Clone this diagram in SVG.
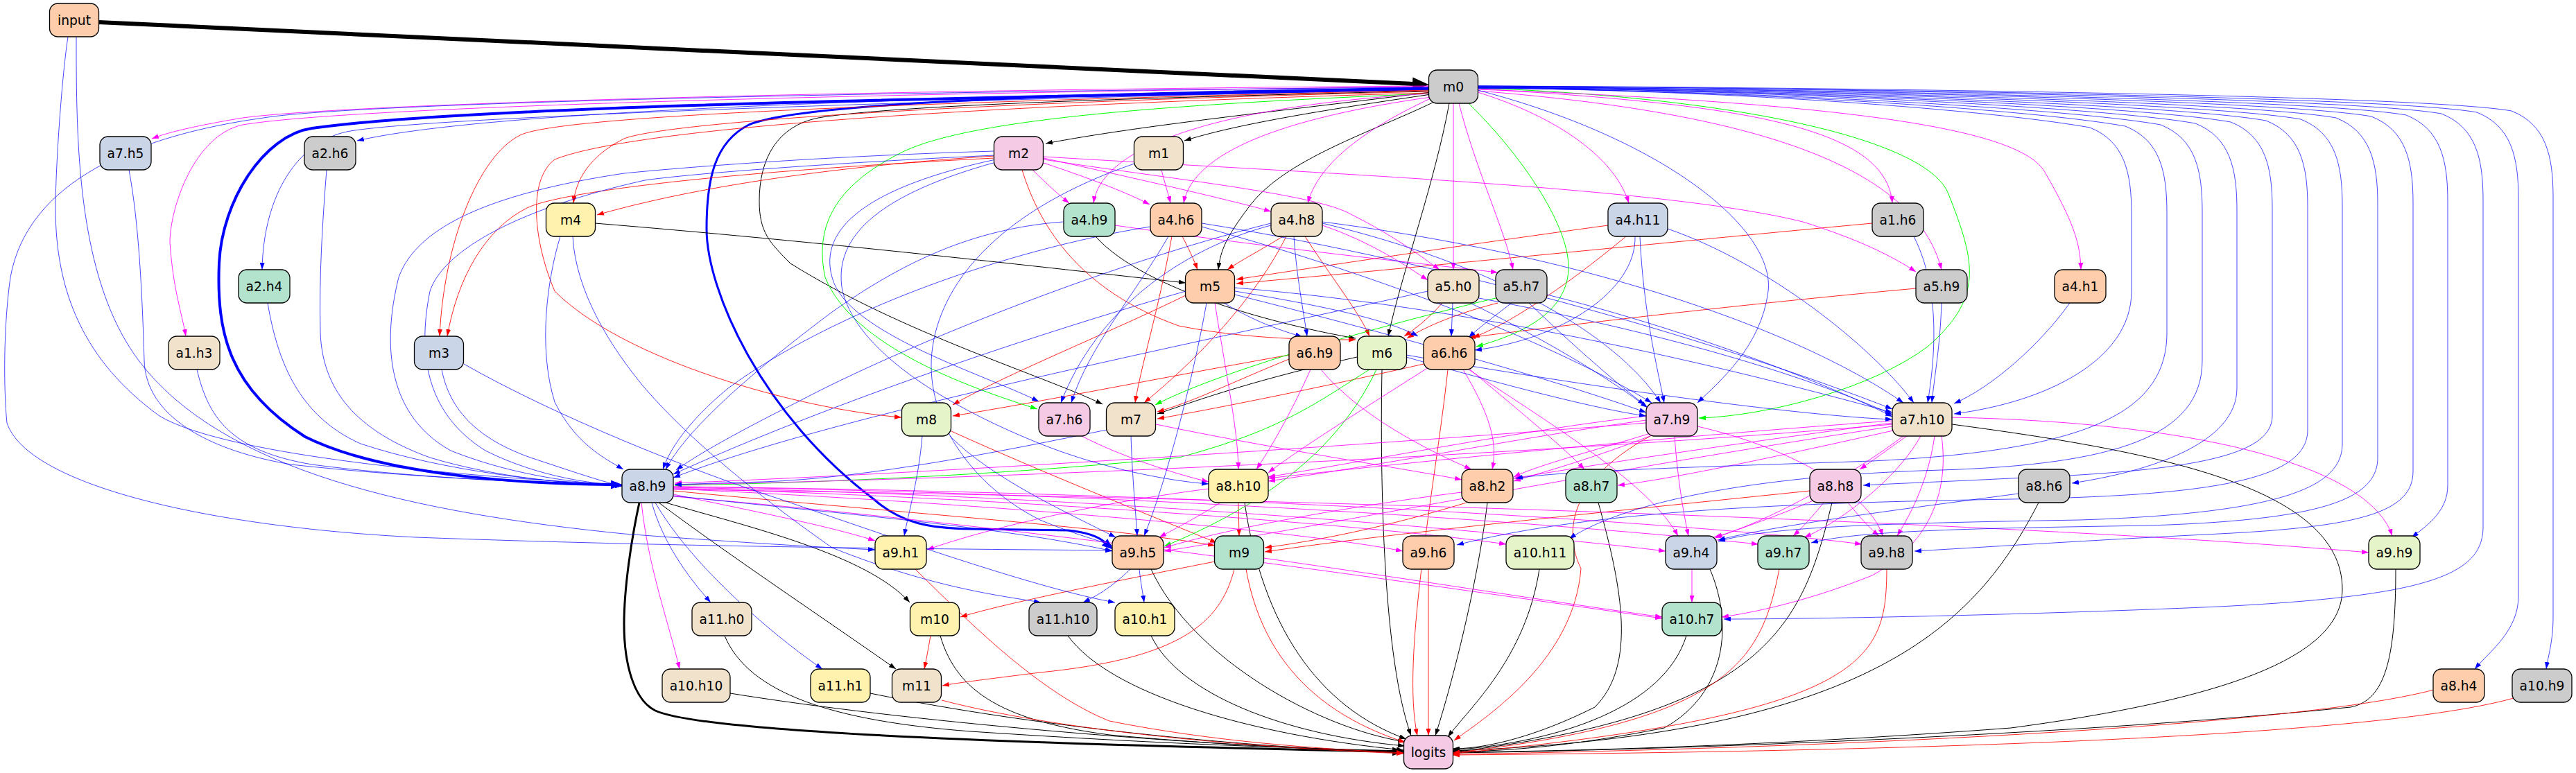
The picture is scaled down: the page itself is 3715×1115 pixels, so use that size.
<svg xmlns="http://www.w3.org/2000/svg" width="3715" height="1115" viewBox="0 0 3715 1115">
<defs>
<style>
.e{fill:none;stroke-width:1}
.k{stroke:#000;marker-end:url(#ak)}
.b{stroke:#0000ff;stroke-opacity:.72;marker-end:url(#ab)}
.r{stroke:#ff0000;stroke-opacity:.85;marker-end:url(#ar)}
.m{stroke:#ff00ff;stroke-opacity:.85;marker-end:url(#am)}
.g{stroke:#00ff00;marker-end:url(#ag)}
.n rect{stroke:#000;stroke-width:1.3}
.n text{font-family:"DejaVu Sans","Liberation Sans",sans-serif;font-size:18.67px;text-anchor:middle;fill:#000}
</style>
<marker id="ak" viewBox="0 0 10 7" refX="10" refY="3.5" markerWidth="10" markerHeight="7" markerUnits="userSpaceOnUse" orient="auto"><path d="M0,0L10,3.5L0,7z" fill="#000"/></marker>
<marker id="ab" viewBox="0 0 10 7" refX="10" refY="3.5" markerWidth="10" markerHeight="7" markerUnits="userSpaceOnUse" orient="auto"><path d="M0,0L10,3.5L0,7z" fill="#0000ff"/></marker>
<marker id="ar" viewBox="0 0 10 7" refX="10" refY="3.5" markerWidth="10" markerHeight="7" markerUnits="userSpaceOnUse" orient="auto"><path d="M0,0L10,3.5L0,7z" fill="#ff0000"/></marker>
<marker id="am" viewBox="0 0 10 7" refX="10" refY="3.5" markerWidth="10" markerHeight="7" markerUnits="userSpaceOnUse" orient="auto"><path d="M0,0L10,3.5L0,7z" fill="#ff00ff"/></marker>
<marker id="ag" viewBox="0 0 10 7" refX="10" refY="3.5" markerWidth="10" markerHeight="7" markerUnits="userSpaceOnUse" orient="auto"><path d="M0,0L10,3.5L0,7z" fill="#00ff00"/></marker>
<marker id="akT" viewBox="0 0 10 8" refX="0" refY="4" markerWidth="24" markerHeight="20" markerUnits="userSpaceOnUse" orient="auto"><path d="M0,0L10,4L0,8z" fill="#000"/></marker>
<marker id="akM" viewBox="0 0 10 8" refX="0" refY="4" markerWidth="16" markerHeight="13" markerUnits="userSpaceOnUse" orient="auto"><path d="M0,0L10,4L0,8z" fill="#000"/></marker>
<marker id="abT" viewBox="0 0 10 8" refX="0" refY="4" markerWidth="16" markerHeight="13" markerUnits="userSpaceOnUse" orient="auto"><path d="M0,0L10,4L0,8z" fill="#0000ff"/></marker>
</defs>
<rect width="3715" height="1115" fill="#fff"/>
<g id="connectors">
<!-- thick -->
<path class="e" style="stroke:#000;stroke-width:6;marker-end:url(#akT)" d="M142,32 L2037,121"/>
<path class="e" style="stroke:#0000ff;stroke-width:4;marker-end:url(#abT)" d="M2061,128 C1500,140 700,150 450,185 C380,195 320,290 316,380 C312,480 330,560 440,630 C560,690 780,698 881,699"/>
<path class="e" style="stroke:#0000ff;stroke-width:3;marker-end:url(#abT)" d="M2061,127 C1500,135 1150,150 1080,180 C1030,205 1019,260 1019,330 C1019,420 1100,600 1260,720 C1300,755 1340,762 1400,763 L1540,765 C1570,768 1585,775 1593,782"/>
<path class="e" style="stroke:#000;stroke-width:3;marker-end:url(#akM)" d="M922,725 C910,780 900,850 900,900 C900,960 915,1010 945,1025 C1000,1050 1300,1070 2008,1084"/>
<!-- black -->
<path class="e k" d="M2063,133 C1850,160 1650,180 1508,207"/>
<path class="e k" d="M2064,136 C1900,160 1780,180 1708,203"/>
<path class="e k" d="M2068,147 C1980,190 1850,230 1800,300 C1770,340 1760,360 1757,389"/>
<path class="e k" d="M2090,149 C2070,260 2020,400 2002,485"/>
<path class="e k" d="M2061,131 C1700,140 1300,150 1180,170 C1120,182 1095,230 1095,290 C1095,335 1110,350 1140,380 C1300,480 1500,540 1590,583"/>
<path class="e k" d="M858,322 C1200,350 1500,385 1710,408"/>
<path class="e k" d="M1580,341 C1650,420 1850,470 1955,488"/>
<path class="e k" d="M1957,515 C1800,550 1720,580 1669,597"/>
<path class="e k" d="M960,725 C1080,760 1250,800 1312,869"/>
<path class="e k" d="M950,725 C1050,800 1200,900 1292,965"/>
<path class="e k" d="M1045,917 C1080,1000 1200,1040 1400,1055 C1700,1075 1900,1080 2024,1083"/>
<path class="e k" d="M1053,1000 C1300,1040 1700,1075 2024,1085"/>
<path class="e k" d="M1255,1000 C1500,1050 1800,1078 2024,1086"/>
<path class="e k" d="M1356,917 C1380,1000 1450,1040 1600,1060 C1800,1078 1950,1082 2024,1084"/>
<path class="e k" d="M1540,917 C1600,1000 1800,1060 2024,1082"/>
<path class="e k" d="M1660,917 C1700,1000 1850,1060 2026,1076"/>
<path class="e k" d="M1660,821 C1720,950 1900,1050 2026,1070"/>
<path class="e k" d="M1795,725 C1820,900 1900,1020 2028,1066"/>
<path class="e k" d="M1993,533 C1990,700 1995,950 2035,1061"/>
<path class="e k" d="M2145,725 C2130,850 2090,1000 2070,1061"/>
<path class="e k" d="M2220,821 C2200,950 2120,1020 2088,1063"/>
<path class="e k" d="M2305,725 C2340,850 2360,960 2300,1020 C2200,1070 2130,1080 2095,1080"/>
<path class="e k" d="M2432,917 C2400,1020 2250,1070 2095,1082"/>
<path class="e k" d="M2466,821 C2500,900 2490,1000 2400,1050 C2250,1080 2150,1084 2095,1084"/>
<path class="e k" d="M2642,725 C2600,900 2550,1030 2095,1085"/>
<path class="e k" d="M2940,725 C2850,900 2700,1060 2095,1083"/>
<path class="e k" d="M2815,612 C3100,650 3378,700 3378,850 C3378,950 3200,1010 2900,1050 C2500,1080 2200,1084 2095,1085"/>
<path class="e k" d="M3455,821 C3455,950 3440,1010 3390,1020 C3000,1060 2400,1082 2095,1086"/>
<!-- red -->
<path class="e r" d="M2061,130 C1200,150 800,170 750,195 C690,225 640,350 634,485"/>
<path class="e r" d="M1434,228 C1000,250 800,280 760,300 C700,330 660,400 645,485"/>
<path class="e r" d="M2061,132 C1300,150 950,180 900,200 C850,225 830,260 827,293"/>
<path class="e r" d="M1434,225 C1200,240 1000,270 861,310"/>
<path class="e r" d="M2061,134 C1300,155 900,190 800,230 C760,260 770,350 800,420 C900,520 1150,590 1300,602"/>
<path class="e r" d="M1712,425 C1600,480 1450,540 1374,584"/>
<path class="e r" d="M1859,512 C1700,540 1500,580 1374,600"/>
<path class="e r" d="M1705,341 C1715,360 1722,375 1727,389"/>
<path class="e r" d="M1850,341 C1820,360 1790,375 1770,389"/>
<path class="e r" d="M2319,325 C2100,355 1900,385 1783,403"/>
<path class="e r" d="M2700,322 C2400,350 2000,390 1783,409"/>
<path class="e r" d="M2763,416 C2500,440 2250,470 2118,487"/>
<path class="e r" d="M2345,341 C2250,420 2170,470 2124,487"/>
<path class="e r" d="M2080,437 C2060,460 2040,475 2025,485"/>
<path class="e r" d="M2160,437 C2090,455 2050,475 2029,488"/>
<path class="e r" d="M1882,341 C1920,400 1960,450 1975,485"/>
<path class="e r" d="M1474,245 C1500,330 1560,420 1700,470 C1800,490 1900,490 1955,490"/>
<path class="e r" d="M1690,341 C1670,450 1645,530 1637,581"/>
<path class="e r" d="M1855,341 C1800,450 1700,540 1650,581"/>
<path class="e r" d="M1859,518 C1780,550 1720,580 1669,594"/>
<path class="e r" d="M2053,525 C1900,560 1750,590 1669,604"/>
<path class="e r" d="M971,708 C1300,740 1600,760 1752,787"/>
<path class="e r" d="M1786,725 L1787,773"/>
<path class="e r" d="M1372,622 C1500,680 1650,740 1755,783"/>
<path class="e r" d="M2115,725 C2000,760 1900,780 1824,790"/>
<path class="e r" d="M2610,708 C2300,740 2000,770 1824,796"/>
<path class="e r" d="M1752,810 C1600,840 1450,870 1385,890"/>
<path class="e r" d="M1780,821 C1760,900 1700,950 1500,970 C1420,980 1380,985 1359,989"/>
<path class="e r" d="M1342,917 C1338,940 1335,955 1333,965"/>
<path class="e r" d="M1358,1010 C1550,1060 1850,1080 2024,1087"/>
<path class="e r" d="M1320,821 C1400,900 1500,1000 1600,1040 C1750,1070 1900,1080 2024,1086"/>
<path class="e r" d="M1797,821 C1820,950 1900,1030 2027,1071"/>
<path class="e r" d="M2088,533 C2070,700 2020,950 2044,1061"/>
<path class="e r" d="M2060,821 L2060,1061"/>
<path class="e r" d="M2380,629 C2250,700 2260,780 2280,820 C2270,950 2150,1030 2097,1068"/>
<path class="e r" d="M2566,821 C2540,950 2500,1040 2095,1086"/>
<path class="e r" d="M2721,821 C2720,950 2700,1030 2095,1087"/>
<path class="e r" d="M3510,995 C3300,1050 2600,1080 2095,1088"/>
<path class="e r" d="M3625,1007 C3400,1070 2600,1085 2095,1089"/>
<!-- green -->
<path class="e g" d="M2118,149 C2200,230 2265,330 2262,390 C2258,450 2200,480 2129,500"/>
<path class="e g" d="M2131,127 C2500,140 2780,200 2810,280 C2850,380 2860,430 2780,500 C2700,560 2550,600 2450,603"/>
<path class="e g" d="M2061,135 C1700,150 1400,170 1300,220 C1200,270 1175,330 1190,400 C1230,500 1400,560 1496,590"/>
<path class="e g" d="M2157,430 C1950,480 1750,540 1666,584"/>
<path class="e g" d="M1975,533 C1900,580 1850,620 1700,660 C1400,690 1100,698 973,700"/>
<path class="e g" d="M1985,533 C1930,650 1820,730 1679,788"/>
<!-- magenta -->
<path class="e m" d="M2061,124 C1200,130 500,150 350,170 C260,185 232,195 219,200"/>
<path class="e m" d="M2061,125 C1200,135 500,155 350,180 C280,195 245,300 245,350 C250,420 262,450 268,485"/>
<path class="e m" d="M2062,135 C1800,150 1590,200 1577,293"/>
<path class="e m" d="M2064,140 C1850,170 1720,220 1707,293"/>
<path class="e m" d="M2063,142 C1960,190 1900,240 1886,293"/>
<path class="e m" d="M2096,149 L2096,389"/>
<path class="e m" d="M2104,149 C2130,250 2170,330 2182,389"/>
<path class="e m" d="M2131,133 C2250,170 2330,230 2349,293"/>
<path class="e m" d="M2131,128 C2500,150 2720,180 2729,293"/>
<path class="e m" d="M2131,131 C2500,160 2760,230 2800,389"/>
<path class="e m" d="M2131,129 C2700,150 2920,190 2950,250 C2990,320 3000,350 3001,389"/>
<path class="e m" d="M1489,245 C1510,265 1525,280 1542,293"/>
<path class="e m" d="M1505,235 C1580,260 1630,280 1658,295"/>
<path class="e m" d="M1505,228 C1650,260 1780,290 1833,305"/>
<path class="e m" d="M1505,226 C1900,250 2400,270 2600,320 C2680,345 2730,370 2763,392"/>
<path class="e m" d="M1505,230 C1700,260 1900,280 1950,310 C2010,340 2050,370 2076,389"/>
<path class="e m" d="M1675,245 C1680,265 1685,280 1688,293"/>
<path class="e m" d="M1907,325 C1980,350 2030,385 2059,404"/>
<path class="e m" d="M1608,325 C1850,360 2050,380 2160,393"/>
<path class="e m" d="M1752,437 C1770,550 1785,620 1786,677"/>
<path class="e m" d="M1890,533 C1860,600 1830,650 1812,677"/>
<path class="e m" d="M1905,533 C1960,600 2060,650 2122,677"/>
<path class="e m" d="M2060,530 C1950,600 1870,650 1829,682"/>
<path class="e m" d="M2110,533 C2150,600 2160,640 2152,677"/>
<path class="e m" d="M2120,533 C2200,600 2260,650 2285,677"/>
<path class="e m" d="M2118,533 C2250,620 2380,700 2420,773"/>
<path class="e m" d="M1560,629 C1620,660 1700,685 1743,695"/>
<path class="e m" d="M1667,612 C1850,650 2050,680 2108,692"/>
<path class="e m" d="M2374,600 C2200,620 2000,660 1829,688"/>
<path class="e m" d="M2374,606 C2200,630 2000,670 1829,694"/>
<path class="e m" d="M2380,625 C2300,650 2220,670 2183,688"/>
<path class="e m" d="M2382,628 C2300,660 2230,680 2183,694"/>
<path class="e m" d="M2415,629 C2420,700 2430,750 2435,773"/>
<path class="e m" d="M2448,615 C2600,650 2700,720 2715,773"/>
<path class="e m" d="M2374,610 C2000,640 1400,680 973,697"/>
<path class="e m" d="M2729,612 C2300,650 1500,690 973,699"/>
<path class="e m" d="M2750,629 C2720,650 2700,665 2682,677"/>
<path class="e m" d="M2745,629 C2650,700 2530,760 2472,775"/>
<path class="e m" d="M2770,629 C2730,700 2640,760 2602,775"/>
<path class="e m" d="M2790,629 C2780,700 2750,750 2736,773"/>
<path class="e m" d="M2815,602 C3200,610 3420,680 3450,773"/>
<path class="e m" d="M2729,610 C2500,640 2300,670 2183,690"/>
<path class="e m" d="M2729,607 C2400,630 2000,670 1829,690"/>
<path class="e m" d="M2735,620 C2600,650 2420,690 2333,700"/>
<path class="e m" d="M2800,629 C2810,700 2790,780 2700,830 C2600,870 2520,885 2483,890"/>
<path class="e m" d="M2729,615 C2300,680 1900,760 1679,795"/>
<path class="e m" d="M2630,725 C2610,750 2595,765 2586,773"/>
<path class="e m" d="M2665,725 C2685,750 2700,765 2710,773"/>
<path class="e m" d="M2615,722 C2550,750 2500,765 2474,776"/>
<path class="e m" d="M1760,725 C1720,750 1690,765 1672,775"/>
<path class="e m" d="M2108,710 C1950,730 1780,760 1679,790"/>
<path class="e m" d="M1743,705 C1550,730 1400,770 1337,793"/>
<path class="e m" d="M1822,805 C2000,830 2250,870 2397,890"/>
<path class="e m" d="M2440,821 L2440,869"/>
<path class="e m" d="M971,713 C1100,740 1200,760 1262,780"/>
<path class="e m" d="M971,705 C1500,730 1900,770 2023,795"/>
<path class="e m" d="M971,704 C1500,720 2000,760 2172,785"/>
<path class="e m" d="M971,703 C1600,715 2200,770 2402,795"/>
<path class="e m" d="M971,702 C1700,712 2300,760 2536,785"/>
<path class="e m" d="M971,702 C1800,710 2500,760 2685,785"/>
<path class="e m" d="M971,706 C2000,720 3000,760 3416,797"/>
<path class="e m" d="M971,716 C1500,760 2100,850 2397,892"/>
<path class="e m" d="M925,725 C935,820 965,900 980,965"/>
<!-- blue -->
<path class="e b" d="M98,53 C88,120 80,250 80,300 C80,420 120,520 230,600 C330,660 700,690 897,699"/>
<path class="e b" d="M110,53 C110,200 110,400 200,520 C320,680 600,740 900,770 C1100,785 1200,790 1262,793"/>
<path class="e b" d="M2061,126 C1200,132 500,150 380,170 C200,195 40,260 15,400 C5,470 5,560 10,610 C40,700 300,760 600,775 C1000,790 1400,792 1604,794"/>
<path class="e b" d="M2061,127 C1300,140 700,160 515,203"/>
<path class="e b" d="M2061,129 C1300,145 600,170 500,190 C430,205 380,280 378,389"/>
<path class="e b" d="M186,245 C200,320 205,420 208,520 C210,600 300,650 420,670 C600,690 800,697 897,700"/>
<path class="e b" d="M284,533 C300,600 330,650 450,670 C600,690 800,698 897,700"/>
<path class="e b" d="M471,245 C465,320 460,400 462,480 C465,560 510,620 620,660 C720,690 820,697 897,701"/>
<path class="e b" d="M386,437 C400,520 430,600 520,640 C640,680 800,697 897,701"/>
<path class="e b" d="M637,533 C650,600 700,640 780,665 C840,685 870,695 897,701"/>
<path class="e b" d="M669,525 C800,600 1000,680 1125,720 C1300,780 1500,850 1608,869"/>
<path class="e b" d="M808,341 C790,400 775,500 800,580 C830,640 870,660 899,677"/>
<path class="e b" d="M826,341 C830,420 880,500 930,560 C1000,640 1100,720 1200,790 C1350,850 1450,860 1501,869"/>
<path class="e b" d="M1434,218 C1200,225 1000,240 900,250 C700,280 600,330 575,400 C550,500 560,600 650,650 C750,690 850,698 897,700"/>
<path class="e b" d="M1434,224 C1200,235 1000,250 930,260 C750,300 640,360 620,420 C600,520 620,600 700,650 C780,690 860,698 897,700"/>
<path class="e b" d="M1436,230 C1250,270 1180,330 1200,400 C1220,480 1420,540 1498,579"/>
<path class="e b" d="M1436,234 C1270,280 1200,340 1215,420 C1240,520 1400,600 1500,640 C1600,680 1700,695 1743,698"/>
<path class="e b" d="M1636,236 C1450,300 1360,400 1345,500 C1330,600 1400,700 1500,750 C1560,775 1590,780 1604,788"/>
<path class="e b" d="M1533,320 C1400,330 1300,380 1200,450 C1080,540 990,620 960,677"/>
<path class="e b" d="M1659,327 C1450,360 1200,450 1050,560 C990,610 965,650 956,677"/>
<path class="e b" d="M1833,322 C1600,380 1300,500 1150,580 C1050,630 1000,660 975,678"/>
<path class="e b" d="M1710,420 C1500,480 1200,580 971,684"/>
<path class="e b" d="M2059,420 C1700,500 1200,600 971,689"/>
<path class="e b" d="M1596,620 C1450,650 1250,690 1100,695 C1030,697 1000,698 973,699"/>
<path class="e b" d="M1330,629 C1325,690 1310,740 1304,773"/>
<path class="e b" d="M1370,629 C1430,690 1540,740 1609,775"/>
<path class="e b" d="M1631,629 C1633,690 1638,740 1640,773"/>
<path class="e b" d="M1740,437 C1720,550 1680,700 1650,773"/>
<path class="e b" d="M1685,341 C1640,420 1570,500 1545,581"/>
<path class="e b" d="M1833,325 C1700,360 1580,450 1530,581"/>
<path class="e b" d="M1733,322 C2100,380 2500,500 2729,590"/>
<path class="e b" d="M1733,327 C2000,400 2250,500 2382,581"/>
<path class="e b" d="M1907,322 C2150,380 2330,480 2395,581"/>
<path class="e b" d="M1907,320 C2300,370 2600,480 2745,581"/>
<path class="e b" d="M1866,341 C1870,400 1880,450 1885,485"/>
<path class="e b" d="M1765,437 C1820,470 1860,480 1878,486"/>
<path class="e b" d="M1781,420 C1900,440 2000,460 2045,485"/>
<path class="e b" d="M1781,415 C2200,450 2600,560 2729,595"/>
<path class="e b" d="M1781,425 C2000,480 2250,550 2374,595"/>
<path class="e b" d="M2365,341 C2370,450 2390,530 2400,581"/>
<path class="e b" d="M2405,330 C2550,380 2700,500 2760,581"/>
<path class="e b" d="M2358,341 C2360,420 2250,490 2127,505"/>
<path class="e b" d="M2760,341 C2800,420 2790,520 2780,581"/>
<path class="e b" d="M2800,437 C2798,500 2790,540 2786,581"/>
<path class="e b" d="M2985,437 C2940,500 2870,560 2818,582"/>
<path class="e b" d="M2095,437 L2093,485"/>
<path class="e b" d="M2120,437 C2250,500 2340,560 2376,588"/>
<path class="e b" d="M2133,430 C2400,480 2600,540 2729,598"/>
<path class="e b" d="M2180,437 C2150,460 2130,475 2118,487"/>
<path class="e b" d="M2205,437 C2270,500 2340,560 2372,584"/>
<path class="e b" d="M2231,425 C2450,480 2650,560 2729,601"/>
<path class="e b" d="M2028,515 C2150,550 2300,590 2374,600"/>
<path class="e b" d="M2028,512 C2300,560 2600,600 2729,605"/>
<path class="e b" d="M2131,130 C2400,200 2560,330 2550,420 C2540,500 2480,550 2448,581"/>
<path class="e b" d="M971,715 C1200,740 1450,760 1604,795"/>
<path class="e b" d="M940,725 C955,780 990,830 1025,869"/>
<path class="e b" d="M945,725 C1000,820 1120,920 1186,965"/>
<path class="e b" d="M1630,821 C1600,850 1580,860 1562,869"/>
<path class="e b" d="M1643,821 C1645,840 1648,855 1650,869"/>
<path class="e b" d="M2911,712 C2700,740 2550,760 2478,779"/>
<!-- m0 right columns -->
<path class="e b" d="M2131,127 C2500,130 2874,159 3014,184 C3064,204 3074,249 3074,309 L3074,420 C3074,520 2950,580 2818,597"/>
<path class="e b" d="M2131,127 C2500,130 2925,157 3065,182 C3115,202 3125,247 3125,307 L3125,480 C3125,600 3000,650 2700,665 C2400,675 2250,680 2186,690"/>
<path class="e b" d="M2131,127 C2500,130 2976,155 3116,180 C3166,200 3176,245 3176,305 L3176,520 C3176,630 3050,670 2800,678 C2550,685 2350,720 2263,777"/>
<path class="e b" d="M2131,126 C2500,129 3026,153 3166,178 C3216,198 3226,243 3226,303 L3226,560 C3226,640 3100,680 2988,697"/>
<path class="e b" d="M2131,126 C2500,129 3077,151 3217,176 C3267,196 3277,241 3277,301 L3277,600 C3277,660 3150,680 2900,690 C2800,695 2720,698 2687,700"/>
<path class="e b" d="M2131,126 C2500,129 3128,149 3268,174 C3318,194 3328,239 3328,299 L3328,620 C3328,690 3200,715 2900,720 C2600,725 2300,735 2101,786"/>
<path class="e b" d="M2131,126 C2500,128 3178,147 3318,172 C3368,192 3378,237 3378,297 L3378,640 C3378,700 3300,740 3000,750 C2700,755 2550,760 2478,781"/>
<path class="e b" d="M2131,125 C2500,128 3229,145 3369,170 C3419,190 3429,235 3429,295 L3429,660 C3429,720 3350,750 3100,758 C2850,762 2680,765 2612,783"/>
<path class="e b" d="M2131,125 C2500,127 3280,143 3420,168 C3470,188 3480,233 3480,293 L3480,680 C3480,740 3400,760 3200,770 C3000,780 2850,790 2761,795"/>
<path class="e b" d="M2131,125 C2500,127 3330,141 3470,166 C3520,186 3530,231 3530,291 L3530,700 C3530,735 3505,755 3478,775"/>
<path class="e b" d="M2131,124 C2500,126 3381,139 3521,164 C3571,184 3581,229 3581,289 L3581,760 C3581,830 3500,860 3200,875 C2900,888 2600,893 2486,893"/>
<path class="e b" d="M2131,124 C2500,126 3432,137 3572,162 C3622,182 3632,227 3632,287 L3632,860 C3632,910 3590,940 3569,965"/>
<path class="e b" d="M2131,124 C2500,125 3482,135 3622,160 C3672,180 3682,225 3682,285 L3682,890 C3682,925 3675,945 3672,965"/>
</g>
<g id="n-input" class="n"><rect x="71.5" y="5" width="71" height="48" rx="12" fill="#fdcdac"/><text x="107" y="36">input</text></g>
<g id="n-m0" class="n"><rect x="2060.5" y="101" width="71" height="48" rx="12" fill="#cccccc"/><text x="2096" y="132">m0</text></g>
<g id="n-a7.h5" class="n"><rect x="144" y="197" width="74" height="48" rx="12" fill="#cbd5e8"/><text x="181" y="228">a7.h5</text></g>
<g id="n-a2.h6" class="n"><rect x="439" y="197" width="74" height="48" rx="12" fill="#cccccc"/><text x="476" y="228">a2.h6</text></g>
<g id="n-m2" class="n"><rect x="1433.5" y="197" width="71" height="48" rx="12" fill="#f4cae4"/><text x="1469" y="228">m2</text></g>
<g id="n-m1" class="n"><rect x="1635.5" y="197" width="71" height="48" rx="12" fill="#f1e2cc"/><text x="1671" y="228">m1</text></g>
<g id="n-m4" class="n"><rect x="787.5" y="293" width="71" height="48" rx="12" fill="#fff2ae"/><text x="823" y="324">m4</text></g>
<g id="n-a4.h9" class="n"><rect x="1534" y="293" width="74" height="48" rx="12" fill="#b3e2cd"/><text x="1571" y="324">a4.h9</text></g>
<g id="n-a4.h6" class="n"><rect x="1659" y="293" width="74" height="48" rx="12" fill="#fdcdac"/><text x="1696" y="324">a4.h6</text></g>
<g id="n-a4.h8" class="n"><rect x="1833" y="293" width="74" height="48" rx="12" fill="#f1e2cc"/><text x="1870" y="324">a4.h8</text></g>
<g id="n-a4.h11" class="n"><rect x="2319" y="293" width="86" height="48" rx="12" fill="#cbd5e8"/><text x="2362" y="324">a4.h11</text></g>
<g id="n-a1.h6" class="n"><rect x="2700" y="293" width="74" height="48" rx="12" fill="#cccccc"/><text x="2737" y="324">a1.h6</text></g>
<g id="n-a2.h4" class="n"><rect x="344" y="389" width="74" height="48" rx="12" fill="#b3e2cd"/><text x="381" y="420">a2.h4</text></g>
<g id="n-m5" class="n"><rect x="1709.5" y="389" width="71" height="48" rx="12" fill="#fdcdac"/><text x="1745" y="420">m5</text></g>
<g id="n-a5.h0" class="n"><rect x="2059" y="389" width="74" height="48" rx="12" fill="#f1e2cc"/><text x="2096" y="420">a5.h0</text></g>
<g id="n-a5.h7" class="n"><rect x="2157" y="389" width="74" height="48" rx="12" fill="#cccccc"/><text x="2194" y="420">a5.h7</text></g>
<g id="n-a5.h9" class="n"><rect x="2763" y="389" width="74" height="48" rx="12" fill="#cccccc"/><text x="2800" y="420">a5.h9</text></g>
<g id="n-a4.h1" class="n"><rect x="2963" y="389" width="74" height="48" rx="12" fill="#fdcdac"/><text x="3000" y="420">a4.h1</text></g>
<g id="n-a1.h3" class="n"><rect x="243" y="485" width="74" height="48" rx="12" fill="#f1e2cc"/><text x="280" y="516">a1.h3</text></g>
<g id="n-m3" class="n"><rect x="597.5" y="485" width="71" height="48" rx="12" fill="#cbd5e8"/><text x="633" y="516">m3</text></g>
<g id="n-a6.h9" class="n"><rect x="1859" y="485" width="74" height="48" rx="12" fill="#fdcdac"/><text x="1896" y="516">a6.h9</text></g>
<g id="n-m6" class="n"><rect x="1957.5" y="485" width="71" height="48" rx="12" fill="#e6f5c9"/><text x="1993" y="516">m6</text></g>
<g id="n-a6.h6" class="n"><rect x="2053" y="485" width="74" height="48" rx="12" fill="#fdcdac"/><text x="2090" y="516">a6.h6</text></g>
<g id="n-m8" class="n"><rect x="1300.5" y="581" width="71" height="48" rx="12" fill="#e6f5c9"/><text x="1336" y="612">m8</text></g>
<g id="n-a7.h6" class="n"><rect x="1498" y="581" width="74" height="48" rx="12" fill="#f4cae4"/><text x="1535" y="612">a7.h6</text></g>
<g id="n-m7" class="n"><rect x="1595.5" y="581" width="71" height="48" rx="12" fill="#f1e2cc"/><text x="1631" y="612">m7</text></g>
<g id="n-a7.h9" class="n"><rect x="2374" y="581" width="74" height="48" rx="12" fill="#f4cae4"/><text x="2411" y="612">a7.h9</text></g>
<g id="n-a7.h10" class="n"><rect x="2729" y="581" width="86" height="48" rx="12" fill="#f1e2cc"/><text x="2772" y="612">a7.h10</text></g>
<g id="n-a8.h9" class="n"><rect x="897" y="677" width="74" height="48" rx="12" fill="#cbd5e8"/><text x="934" y="708">a8.h9</text></g>
<g id="n-a8.h10" class="n"><rect x="1743" y="677" width="86" height="48" rx="12" fill="#fff2ae"/><text x="1786" y="708">a8.h10</text></g>
<g id="n-a8.h2" class="n"><rect x="2108" y="677" width="74" height="48" rx="12" fill="#fdcdac"/><text x="2145" y="708">a8.h2</text></g>
<g id="n-a8.h7" class="n"><rect x="2258" y="677" width="74" height="48" rx="12" fill="#b3e2cd"/><text x="2295" y="708">a8.h7</text></g>
<g id="n-a8.h8" class="n"><rect x="2610" y="677" width="74" height="48" rx="12" fill="#f4cae4"/><text x="2647" y="708">a8.h8</text></g>
<g id="n-a8.h6" class="n"><rect x="2911" y="677" width="74" height="48" rx="12" fill="#cccccc"/><text x="2948" y="708">a8.h6</text></g>
<g id="n-a9.h1" class="n"><rect x="1262" y="773" width="74" height="48" rx="12" fill="#fff2ae"/><text x="1299" y="804">a9.h1</text></g>
<g id="n-a9.h5" class="n"><rect x="1604" y="773" width="74" height="48" rx="12" fill="#fdcdac"/><text x="1641" y="804">a9.h5</text></g>
<g id="n-m9" class="n"><rect x="1751.5" y="773" width="71" height="48" rx="12" fill="#b3e2cd"/><text x="1787" y="804">m9</text></g>
<g id="n-a9.h6" class="n"><rect x="2023" y="773" width="74" height="48" rx="12" fill="#fdcdac"/><text x="2060" y="804">a9.h6</text></g>
<g id="n-a10.h11" class="n"><rect x="2172" y="773" width="98" height="48" rx="12" fill="#e6f5c9"/><text x="2221" y="804">a10.h11</text></g>
<g id="n-a9.h4" class="n"><rect x="2402" y="773" width="74" height="48" rx="12" fill="#cbd5e8"/><text x="2439" y="804">a9.h4</text></g>
<g id="n-a9.h7" class="n"><rect x="2535" y="773" width="74" height="48" rx="12" fill="#b3e2cd"/><text x="2572" y="804">a9.h7</text></g>
<g id="n-a9.h8" class="n"><rect x="2684" y="773" width="74" height="48" rx="12" fill="#cccccc"/><text x="2721" y="804">a9.h8</text></g>
<g id="n-a9.h9" class="n"><rect x="3416" y="773" width="74" height="48" rx="12" fill="#e6f5c9"/><text x="3453" y="804">a9.h9</text></g>
<g id="n-a11.h0" class="n"><rect x="998" y="869" width="86" height="48" rx="12" fill="#f1e2cc"/><text x="1041" y="900">a11.h0</text></g>
<g id="n-m10" class="n"><rect x="1312.5" y="869" width="71" height="48" rx="12" fill="#fff2ae"/><text x="1348" y="900">m10</text></g>
<g id="n-a11.h10" class="n"><rect x="1484" y="869" width="98" height="48" rx="12" fill="#cccccc"/><text x="1533" y="900">a11.h10</text></g>
<g id="n-a10.h1" class="n"><rect x="1608" y="869" width="86" height="48" rx="12" fill="#fff2ae"/><text x="1651" y="900">a10.h1</text></g>
<g id="n-a10.h7" class="n"><rect x="2397" y="869" width="86" height="48" rx="12" fill="#b3e2cd"/><text x="2440" y="900">a10.h7</text></g>
<g id="n-a10.h10" class="n"><rect x="955" y="965" width="98" height="48" rx="12" fill="#f1e2cc"/><text x="1004" y="996">a10.h10</text></g>
<g id="n-a11.h1" class="n"><rect x="1169" y="965" width="86" height="48" rx="12" fill="#fff2ae"/><text x="1212" y="996">a11.h1</text></g>
<g id="n-m11" class="n"><rect x="1286.5" y="965" width="71" height="48" rx="12" fill="#f1e2cc"/><text x="1322" y="996">m11</text></g>
<g id="n-a8.h4" class="n"><rect x="3509" y="965" width="74" height="48" rx="12" fill="#fdcdac"/><text x="3546" y="996">a8.h4</text></g>
<g id="n-a10.h9" class="n"><rect x="3623" y="965" width="86" height="48" rx="12" fill="#cccccc"/><text x="3666" y="996">a10.h9</text></g>
<g id="n-logits" class="n"><rect x="2024.5" y="1061" width="71" height="48" rx="12" fill="#f4cae4"/><text x="2060" y="1092">logits</text></g>
</svg>
